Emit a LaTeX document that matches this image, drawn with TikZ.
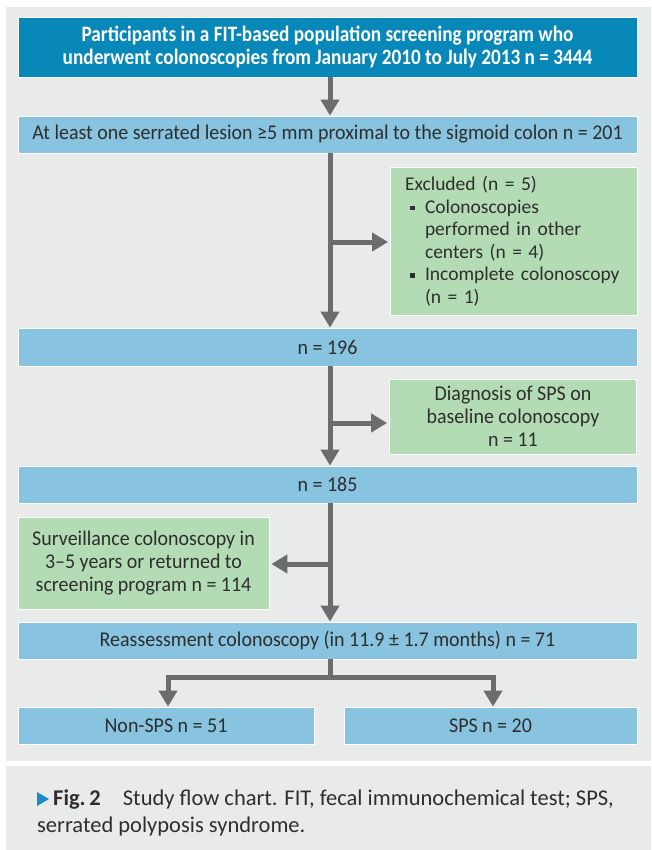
\documentclass[tikz,border=0pt]{standalone}
\usepackage{fontspec}
\setmainfont{Carlito}
\newfontfamily\cond[FakeStretch=0.95]{Carlito}
\newfontfamily\condb[FakeStretch=0.875]{Carlito}
\newfontfamily\capf[FakeStretch=1.0]{Carlito}
\usetikzlibrary{arrows.meta}
\definecolor{panel}{HTML}{E9EBEA}
\definecolor{dblue}{HTML}{0888B8}
\definecolor{lblue}{HTML}{88C3DF}
\definecolor{lgreen}{HTML}{B3DCB5}
\definecolor{arrc}{HTML}{6B6C6E}
\definecolor{txt}{HTML}{2E2E2E}
\definecolor{tri}{HTML}{1A8CC8}
\newcommand\sqb{\makebox[20pt][l]{\hspace{5pt}\rule[3pt]{4.5pt}{4.5pt}}}
\newcommand\sqi{\hspace*{20pt}}
\begin{document}
\begin{tikzpicture}[x=1pt,y=-1pt,
  box/.style={draw=white, line width=0.8pt, inner sep=0pt, align=center, text=txt,
    font=\cond\fontsize{21}{23}\selectfont},
  topbox/.style={box, fill=dblue, text=white, font=\condb\bfseries\fontsize{22}{23.5}\selectfont},
  bluebox/.style={box, fill=lblue},
  greenbox/.style={box, fill=lgreen},
  flow/.style={draw=arrc, line width=5pt, -{Triangle[length=16pt,width=18pt]}},
  plain/.style={draw=arrc, line width=5pt},
  captext/.style={anchor=base west, inner sep=0pt, text=txt, font=\capf\fontsize{22.5}{27}\selectfont}
]
\useasboundingbox (0,0) rectangle (651,850);
\fill[white] (0,0) rectangle (651,850);
\fill[panel] (6,7) rectangle (651,761);
\fill[panel] (6,766) rectangle (651,850);

\node[topbox, minimum width=619pt, minimum height=60pt] (top) at (327.5,47)
  {Participants in a FIT-based population screening program who\\underwent colonoscopies from January 2010 to July 2013 n = 3444};
\node[bluebox, minimum width=619pt, minimum height=37pt] (b201) at (327.5,134.5)
  {At least one serrated lesion ≥5 mm proximal to the sigmoid colon n = 201};
\node[greenbox, minimum width=247pt, minimum height=148pt, text width=217pt, align=left,
  font=\fontsize{19.5}{22.5}\selectfont] (ex1) at (513.5,241)
  {Excluded (n = 5)\\\sqb Colonoscopies\\\sqi performed in other\\\sqi centers (n = 4)\\\sqb Incomplete colonoscopy\\\sqi (n = 1)};
\node[bluebox, minimum width=619pt, minimum height=38pt] (b196) at (327.5,347) {n = 196};
\node[greenbox, minimum width=247pt, minimum height=75pt] (ex2) at (513,416.5)
  {Diagnosis of SPS on\\baseline colonoscopy\\n = 11};
\node[bluebox, minimum width=619pt, minimum height=37pt] (b185) at (327.5,484.5) {n = 185};
\node[greenbox, minimum width=251pt, minimum height=92pt] (ex3) at (143.5,563)
  {Surveillance colonoscopy in\\3–5 years or returned to\\screening program n = 114};
\node[bluebox, minimum width=619pt, minimum height=37pt] (reas) at (327.5,640.5)
  {Reassessment colonoscopy (in 11.9 ± 1.7 months) n = 71};
\node[bluebox, minimum width=296pt, minimum height=37pt] (non) at (166,725.5) {Non-SPS n = 51};
\node[bluebox, minimum width=293pt, minimum height=37pt] (sps) at (490.5,725.5) {SPS n = 20};

\coordinate (sx) at (330,0);
\coordinate (bj) at (330,677);
\draw[flow] (top.south -| sx) -- (b201.north -| sx);
\draw[flow] (b201.south -| sx) -- (b196.north -| sx);
\draw[flow] ([yshift=-1pt]ex1.west -| sx) -- ([yshift=-1pt,xshift=-1.5pt]ex1.west);
\draw[flow] (b196.south -| sx) -- (b185.north -| sx);
\draw[flow] ([yshift=-6.5pt]ex2.west -| sx) -- ([yshift=-6.5pt,xshift=-2pt]ex2.west);
\draw[flow] (b185.south -| sx) -- (reas.north -| sx);
\draw[flow] ([yshift=-1pt]ex3.east -| sx) -- ([yshift=-1pt,xshift=2pt]ex3.east);
\draw[plain] (reas.south -| sx) -- (bj);
\draw[flow] ([xshift=2.5pt]bj) -| ([xshift=2pt]non.north);
\draw[flow] ([xshift=-2.5pt]bj) -| ([xshift=2.5pt]sps.north);

\fill[tri] (37,792) -- (49,799) -- (37,806) -- cycle;
\node[captext] (cap) at (53,805)
  {\textbf{Fig.\,2}\hspace{22pt}Study flow chart. FIT, fecal immunochemical test; SPS,};
\node[captext] (cap2) at (37,832)
  {serrated polyposis syndrome.};
\end{tikzpicture}
\end{document}
